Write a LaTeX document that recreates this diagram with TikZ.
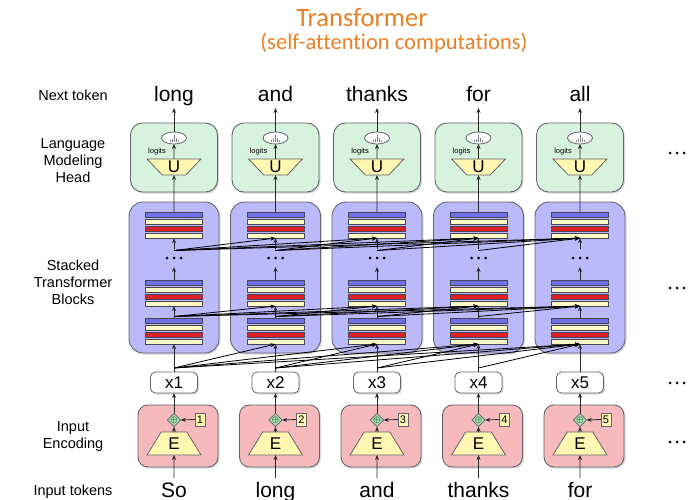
\documentclass[tikz,border=0pt]{standalone}
\usepackage{fontspec}
\setmainfont{Liberation Sans}
\newfontfamily\titlefont[Ligatures=NoCommon]{Carlito}
\usetikzlibrary{shapes.geometric,arrows.meta,shadows,calc}
\definecolor{headfill}{RGB}{216,243,221}
\definecolor{blockfill}{RGB}{186,186,250}
\definecolor{barblue}{RGB}{112,112,232}
\definecolor{baryellow}{RGB}{255,250,196}
\definecolor{barred}{RGB}{222,32,40}
\definecolor{pinkfill}{RGB}{246,186,188}
\definecolor{plusfill}{RGB}{160,222,172}
\definecolor{trapfill}{RGB}{255,246,178}
\definecolor{edge}{RGB}{100,100,112}
\definecolor{baredge}{RGB}{70,70,85}
\definecolor{arrowc}{RGB}{40,40,40}
\definecolor{titleorange}{RGB}{232,128,36}
\begin{document}
\begin{tikzpicture}[x=1pt,y=-1pt,
  every node/.style={inner sep=0pt,outer sep=0pt},
  shad/.style={drop shadow={opacity=0.3,shadow xshift=1.5pt,shadow yshift=-1.5pt}},
  headbox/.style={draw=edge,line width=0.9pt,fill=headfill,rounded corners=12pt,minimum width=87pt,minimum height=69pt,shad},
  blockbox/.style={draw=edge,line width=0.9pt,fill=blockfill,rounded corners=14pt,minimum width=90pt,minimum height=151pt,shad},
  encbox/.style={draw=edge,line width=0.9pt,fill=pinkfill,rounded corners=10pt,minimum width=80pt,minimum height=62pt,shad},
  xbox/.style={draw=edge,line width=0.8pt,fill=white,rounded corners=5pt,minimum width=47pt,minimum height=21pt,font=\fontsize{17}{17}\selectfont,shad},
  bar/.style={draw=baredge,line width=0.7pt,minimum width=57pt,minimum height=5.2pt},
  trap/.style={trapezium,draw=edge,line width=0.8pt,fill=trapfill,trapezium stretches=true,font=\fontsize{17}{17}\selectfont},
  ebox/.style={trap,minimum width=54pt,minimum height=23pt,trapezium left angle=62,trapezium right angle=62},
  ubox/.style={trap,minimum width=54pt,minimum height=16pt,trapezium left angle=56,trapezium right angle=56,shape border rotate=180},
  distn/.style={ellipse,draw=edge,line width=0.8pt,fill=white,minimum width=25pt,minimum height=12pt,
    path picture={\foreach \dx/\h in {-4/1.5,-2/2.5,0/6.5,2/3,4/1.5}
      \draw[gray,line width=0.8pt] ($(path picture bounding box.center)+(\dx pt,-3.5pt)$) -- ++(0pt,\h pt);}},
  plusd/.style={diamond,draw=edge,line width=0.7pt,fill=plusfill,minimum width=13pt,minimum height=13pt},
  numbox/.style={draw=edge,line width=0.7pt,fill=trapfill,minimum width=10pt,minimum height=13pt,font=\fontsize{11}{11}\selectfont},
  dotsn/.style={minimum width=24pt,minimum height=#1,
    path picture={\foreach \dx in {-7,0,7}\fill[black] ($(path picture bounding box.center)+(\dx pt,0pt)$) circle (1.5pt);}},
  tok/.style={font=\fontsize{21}{21}\selectfont},
  lab/.style={align=center,font=\fontsize{14.5}{17}\selectfont},
  arr/.style={draw=arrowc,line width=0.8pt,-{Stealth[length=5pt,width=4pt]}},
  att/.style={draw=black,line width=0.8pt,-{Stealth[length=5pt,width=4pt]}}
]
\useasboundingbox (0,0) rectangle (693,500);
% title
\node[font=\titlefont\fontsize{26.5}{26.5}\selectfont,text=titleorange,anchor=base] (title1) at (362,27) {Transformer};
\node[font=\titlefont\fontsize{22.5}{22.5}\selectfont,text=titleorange,anchor=base] (title2) at (394,50) {(self-attention computations)};
% left labels
\node[lab] (l1) at (73,95) {Next token};
\node[lab] (l2) at (73,161) {Language\\Modeling\\Head};
\node[lab] (l3) at (73,282) {Stacked\\Transformer\\Blocks};
\node[lab] (l4) at (73,437) {Input\\Encoding};
\node[lab] (l5) at (73,492) {Input tokens};
% right dots
\node[dotsn=6pt] (r1) at (677,153) {};
\node[dotsn=6pt] (r2) at (677,288) {};
\node[dotsn=6pt] (r3) at (677,383) {};
\node[dotsn=6pt] (r4) at (677,442) {};
% columns
\foreach \i/\nt/\inp in {1/long/So,2/and/long,3/thanks/and,4/for/thanks,5/all/for}{
  \pgfmathsetmacro\c{174+101.5*(\i-1)}
  % head
  \node[headbox] (head\i) at (\c,157.5) {};
  \node[ubox] (U\i) at (\c,167) {U};
  \node[distn] (ell\i) at (\c,138) {};
  \node[font=\fontsize{7.5}{8}\selectfont] (lg\i) at (\c-17,151.5) {logits};
  \node[tok,anchor=base] (nt\i) at (\c,102) {\nt};
  \coordinate (ntb\i) at (\c,108);
  % transformer block
  \node[blockbox] (blk\i) at (\c,277.5) {};
  \foreach \s/\y in {t/214.5,m/282.5,b/320.5}{
    \node[bar,fill=barblue] (\s A\i) at (\c,\y) {};
    \node[bar,fill=baryellow] (\s B\i) at (\c,\y+7) {};
    \node[bar,fill=barred] (\s C\i) at (\c,\y+14) {};
    \node[bar,fill=baryellow] (\s D\i) at (\c,\y+21) {};
  }
  \node[dotsn=18pt] (dots\i) at (\c,258) {};
  % input side
  \node[xbox] (x\i) at (\c,382.5) {x\i};
  \node[encbox] (enc\i) at (\c+4,436) {};
  \node[ebox] (E\i) at (\c,443.5) {E};
  \node[plusd] (p\i) at (\c,420) {\fontsize{9}{9}\selectfont$\oplus$};
  \node[numbox] (n\i) at (\c+26,419.5) {\i};
  \node[tok,anchor=base] (in\i) at (\c,497) {\inp};
  \coordinate (inb\i) at (\c,478);
  % vertical arrows
  \draw[arr] (inb\i) -- (E\i.south);
  \draw[arr] (E\i.north) -- (p\i.south);
  \draw[arr] (n\i.west) -- (p\i.east);
  \draw[arr] (p\i.north) -- (x\i.south);
  \draw[arr] (x\i.north) -- (bD\i.south);
  \draw[arr] (bA\i.north) -- (mD\i.south);
  \draw[arr] (mA\i.north) -- (dots\i.south);
  \draw[arr] (dots\i.north) -- (tD\i.south);
  \draw[arr] (tA\i.north) -- (U\i.south);
  \draw[arr] (U\i.north) -- (ell\i.south);
  \draw[arr] (ell\i.north) -- (ntb\i);
  \coordinate (sa\i) at (\c,368);
  \coordinate (sb\i) at (\c,316.5);
  \coordinate (sc\i) at (\c,250.5);
}
% attention connections
\foreach \i in {1,...,4}{
  \pgfmathtruncatemacro\ip{\i+1}
  \foreach \j in {\ip,...,5}{
    \draw[att] (sa\i) -- (bD\j.south);
    \draw[att] (sb\i) -- (mD\j.south);
    \draw[att] (sc\i) -- (tD\j.south);
  }
}
\end{tikzpicture}
\end{document}
